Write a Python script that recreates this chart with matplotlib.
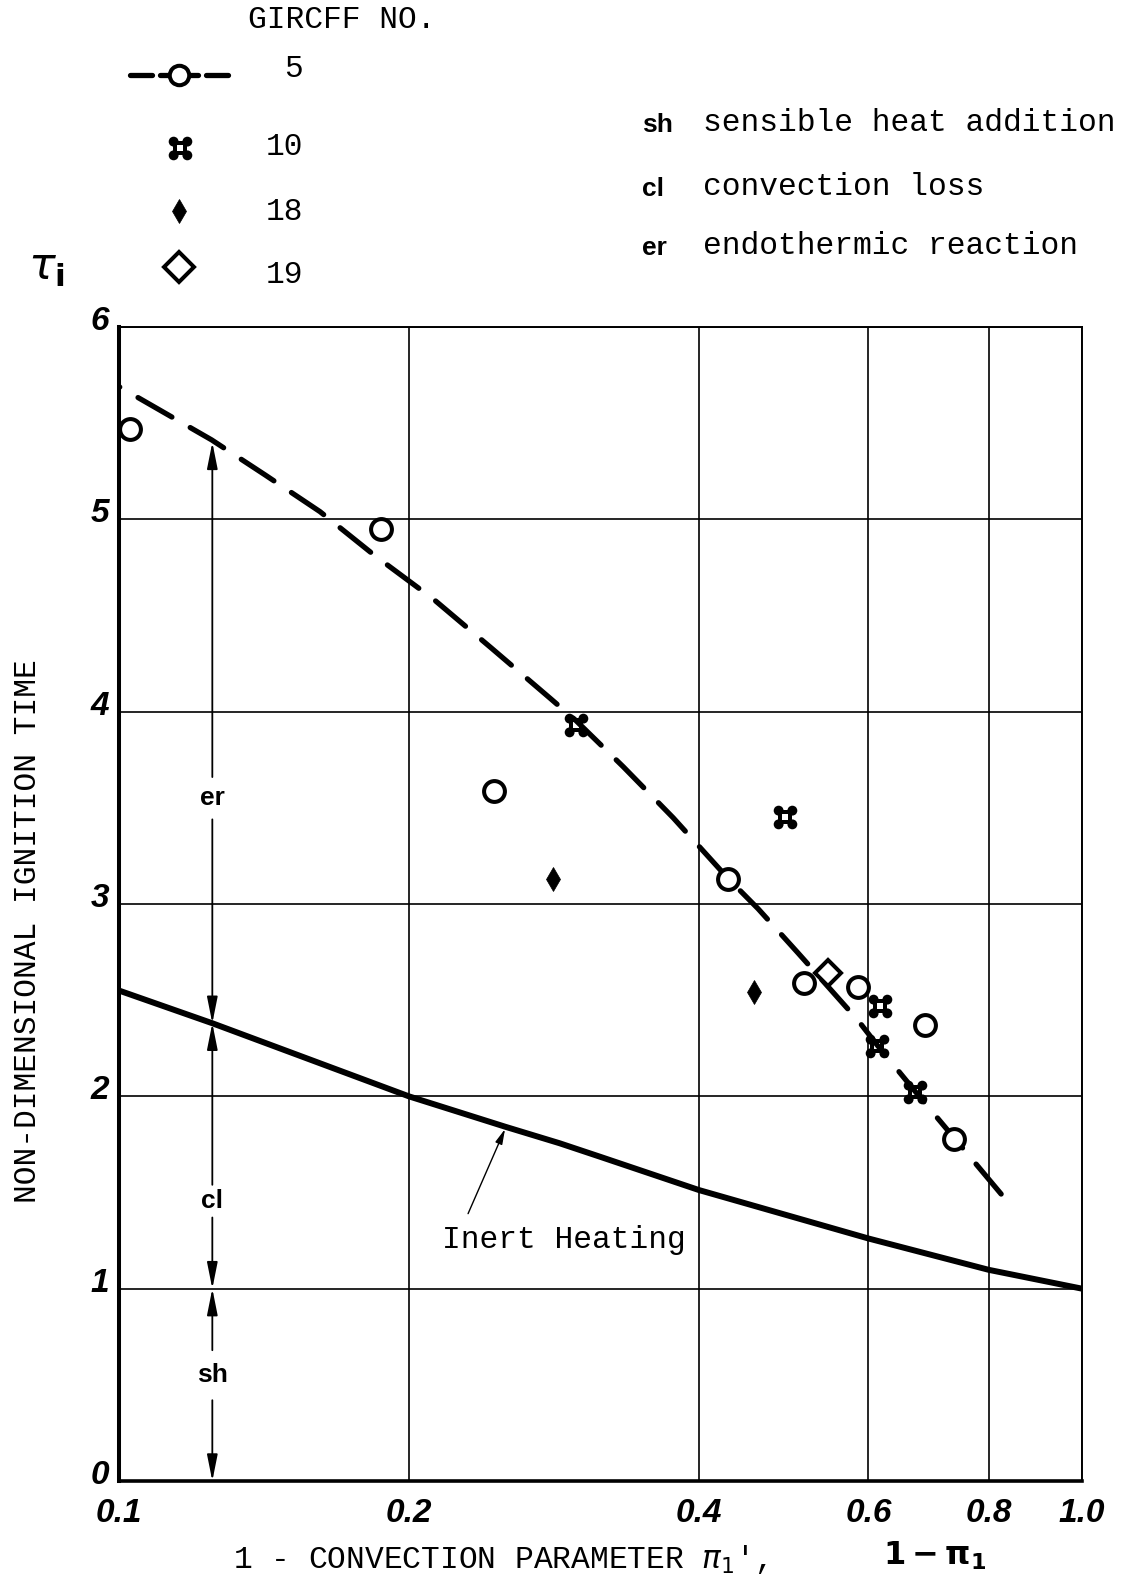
import matplotlib
matplotlib.use("Agg")
import matplotlib.pyplot as plt
import numpy as np
from matplotlib.path import Path
from matplotlib.transforms import ScaledTranslation

# =========================
# Ignition-time data (GIRCFF runs)
# =========================
g5_x = [0.1026, 0.1869, 0.2451, 0.429, 0.5145, 0.586, 0.687, 0.737]
g5_y = [5.47, 4.95, 3.59, 3.13, 2.59, 2.57, 2.37, 1.78]

g10_x = [0.2985, 0.491, 0.617, 0.613, 0.671]
g10_y = [3.93, 3.45, 2.47, 2.26, 2.02]

g18_x = [0.2825, 0.4565]
g18_y = [3.13, 2.54]

g19_x = [0.545]
g19_y = [2.64]

# faired curve through the GIRCFF 5 / 10 points
fit_x = [0.1, 0.1248, 0.1418, 0.1617, 0.1845, 0.2121, 0.2437, 0.2803, 0.298,
         0.334, 0.3763, 0.429, 0.461, 0.5072, 0.5849, 0.612, 0.673, 0.738, 0.8242]
fit_y = [5.69, 5.413, 5.231, 5.04, 4.81, 4.585, 4.33, 4.07, 3.955,
         3.713, 3.448, 3.133, 2.975, 2.745, 2.397, 2.27, 2.018, 1.779, 1.492]

# inert heating curve
inert_x = [0.1, 0.125, 0.2, 0.2518, 0.2868, 0.3163, 0.4, 0.6, 0.8, 1.0]
inert_y = [2.55, 2.38, 2.0, 1.842, 1.756, 1.685, 1.513, 1.261, 1.098, 1.0]

x_ticks = [0.1, 0.2, 0.4, 0.6, 0.8, 1.0]
x_ticklabels = ["0.1", "0.2", "0.4", "0.6", "0.8", "1.0"]
y_ticks = [0, 1, 2, 3, 4, 5, 6]

# energy split at pi = 0.125
split_x = 0.125
split_levels = [0.0, 1.0, 2.38, 5.40]
split_names = ["sh", "cl", "er"]
split_label_y = [0.55, 1.455, 3.55]
split_gap = [(0.42, 0.68), (1.37, 1.54), (3.44, 3.66)]

legend_ids = ["5", "10", "18", "19"]

# =========================
# Fonts / sizes
# =========================
W, H = 1142, 1587
mono = "Liberation Mono"
mono_fs = 22.5
tick_fs = 24
abbr_fs = 19


def quatrefoil_paths():
    # four corner lobes + square ring with a hole
    lobes = []
    for cx, cy in [(-0.5, -0.5), (0.5, -0.5), (0.5, 0.5), (-0.5, 0.5)]:
        lobes.append(Path.circle((cx, cy), 0.36))
    lobe_path = Path.make_compound_path(*lobes)
    o, i = 0.5, 0.19
    verts = [(-o, -o), (o, -o), (o, o), (-o, o), (-o, -o),
             (-i, -i), (-i, i), (i, i), (i, -i), (-i, -i)]
    codes = [Path.MOVETO, Path.LINETO, Path.LINETO, Path.LINETO, Path.CLOSEPOLY] * 2
    ring_path = Path(verts, codes)
    return lobe_path, ring_path


lobe_path, ring_path = quatrefoil_paths()
lobe_extent = 0.86


def plot_quatrefoil(ax, x, y, ms, **kw):
    ax.plot(x, y, linestyle="none", marker=lobe_path, ms=ms, mew=0,
            mfc="black", **kw)
    ax.plot(x, y, linestyle="none", marker=ring_path, ms=ms * 0.5 / lobe_extent,
            mew=0, mfc="black", **kw)


fig = plt.figure(figsize=(W / 100, H / 100), dpi=100)
fig.patch.set_facecolor("white")

ax = fig.add_axes([119 / W, 1 - 1481 / H, (1082 - 119) / W, (1481 - 327) / H])
ax.set_xscale("log")
ax.set_xlim(0.1, 1.0)
ax.set_ylim(0, 6)

ax.set_xticks(x_ticks)
ax.set_xticklabels(x_ticklabels)
ax.xaxis.set_minor_locator(matplotlib.ticker.NullLocator())
ax.set_yticks(y_ticks)
ax.set_yticklabels([str(v) for v in y_ticks])
ax.tick_params(length=0, labelsize=tick_fs)
ax.tick_params(axis="x", pad=12)
ax.tick_params(axis="y", pad=7)
for lbl in ax.get_xticklabels() + ax.get_yticklabels():
    lbl.set_fontfamily("Liberation Sans")
    lbl.set_fontweight("bold")
    lbl.set_fontstyle("italic")
for lbl in ax.get_yticklabels():
    lbl.set_transform(lbl.get_transform() + ScaledTranslation(0, 0.09, fig.dpi_scale_trans))

ax.grid(True, color="black", linewidth=1.2)
ax.set_axisbelow(True)
ax.spines["left"].set_linewidth(2.9)
ax.spines["bottom"].set_linewidth(2.6)
ax.spines["top"].set_linewidth(1.4)
ax.spines["right"].set_linewidth(1.4)

# curves
ax.plot(inert_x, inert_y, color="black", linewidth=4.3, solid_capstyle="butt", zorder=3)
# dashed fit drawn from its lower end so the pattern starts with a full dash there
ax.plot(fit_x[::-1], fit_y[::-1], color="black", linewidth=3.8, dashes=(7.4, 4.0),
        dash_capstyle="round", zorder=3)

# data points
ax.plot(g5_x, g5_y, linestyle="none", marker="o", ms=15, mfc="white",
        mec="black", mew=2.9, zorder=5)
plot_quatrefoil(ax, g10_x, g10_y, 17, zorder=5)
ax.plot(g18_x, g18_y, linestyle="none", marker="d", ms=12.5, mfc="black",
        mec="black", mew=0.5, zorder=5)
ax.plot(g19_x, g19_y, linestyle="none", marker="D", ms=13, mfc="white",
        mec="black", mew=2.9, zorder=5)

# dimension arrows sh / cl / er
arrow_kw = dict(arrowstyle="-|>,head_length=1.6,head_width=0.32", color="black",
                lw=1.3, shrinkA=0, shrinkB=0)
for k, name in enumerate(split_names):
    lo, hi = split_levels[k], split_levels[k + 1]
    g_lo, g_hi = split_gap[k]
    ax.annotate("", xy=(split_x, hi), xytext=(split_x, g_hi), arrowprops=arrow_kw, zorder=4)
    ax.annotate("", xy=(split_x, lo), xytext=(split_x, g_lo), arrowprops=arrow_kw, zorder=4)
    ax.text(split_x, split_label_y[k], name, ha="center", va="center",
            fontsize=abbr_fs, fontweight="bold", family="Liberation Sans")

# inert heating callout
ax.annotate("", xy=(0.2517, 1.83), xytext=(0.2304, 1.39),
            arrowprops=dict(arrowstyle="-|>,head_length=0.9,head_width=0.22",
                            color="black", lw=1.0, shrinkA=0, shrinkB=0))
ax.text(0.2166, 1.253, "Inert Heating", ha="left", va="center",
        family=mono, fontsize=mono_fs)

# =========================
# Page-level text and legend (pixel coordinates)
# =========================
ov = fig.add_axes([0, 0, 1, 1], zorder=-1)
ov.set_xlim(0, W)
ov.set_ylim(H, 0)
ov.axis("off")
ov.patch.set_visible(False)

ov.text(28, 931, "NON-DIMENSIONAL IGNITION TIME", rotation=90, ha="center",
        va="center", family=mono, fontsize=mono_fs)
ov.text(233, 1559, r"1 - CONVECTION PARAMETER $\pi_1$',", ha="left", va="center",
        family=mono, fontsize=mono_fs)
ov.text(935, 1556, r"$\mathbf{1-\pi_1}$", ha="center", va="center", fontsize=23)
ov.text(46, 268, r"$\tau_\mathbf{i}$", ha="center", va="center", fontsize=32)

ov.text(248, 20, "GIRCFF NO.", ha="left", va="center", family=mono, fontsize=mono_fs)
leg_y = [69, 147, 212, 275]
mark_y = [75, 148, 211, 267]
for lid, ty in zip(legend_ids, leg_y):
    ov.text(303, ty, lid, ha="right", va="center", family=mono, fontsize=mono_fs)

for seg in [(130, 152), (160, 198), (206, 228)]:
    ov.plot(seg, [mark_y[0], mark_y[0]], color="black", linewidth=3.8,
            solid_capstyle="round")
ov.plot([179], [mark_y[0]], marker="o", ms=14, mfc="white", mec="black", mew=2.9)
plot_quatrefoil(ov, [180], [mark_y[1]], 17)
ov.plot([179], [mark_y[2]], marker="d", ms=12.5, mfc="black", mec="black", mew=0.5)
ov.plot([179], [mark_y[3]], marker="D", ms=15, mfc="white", mec="black", mew=2.9)

key_abbr = ["sh", "cl", "er"]
key_text = ["sensible heat addition", "convection loss", "endothermic reaction"]
key_y = [123, 187, 246]
for ab, tx, ty in zip(key_abbr, key_text, key_y):
    ov.text(642, ty + 2, ab, ha="left", va="center", fontsize=abbr_fs,
            fontweight="bold", family="Liberation Sans")
    ov.text(703, ty, tx, ha="left", va="center", family=mono, fontsize=mono_fs)

fig.savefig("out.png", dpi=100, facecolor="white")
